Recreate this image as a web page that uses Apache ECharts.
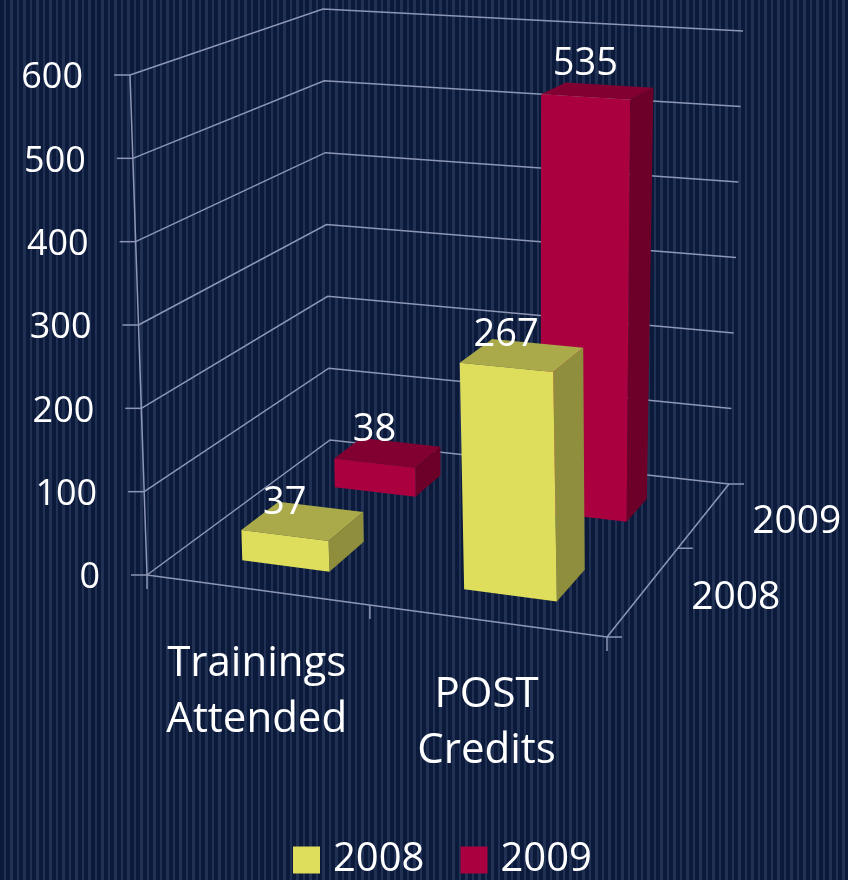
<!DOCTYPE html>
<html lang="en">
<head>
<meta charset="UTF-8" />
<title>Trainings and POST credits</title>
<script src="https://cdn.jsdelivr.net/npm/echarts@6/dist/echarts.min.js"></script>
<style>
  html, body { margin: 0; padding: 0; }
  body {
    background-color: #0b1a3b;
    background-image: repeating-linear-gradient(90deg, #0b1a3b 0px, #0b1a3b 4px, #203153 4px, #203153 6.5px);
  }
  #chart { width: 848px; height: 880px; }
</style>
</head>
<body>
<div id="chart"></div>
<script>
// data
var categories = ['Trainings\nAttended', 'POST\nCredits'];
var years = ['2008', '2009'];
var values2008 = [37, 267];
var values2009 = [38, 535];
var valueTicks = [0, 100, 200, 300, 400, 500, 600];
var yMax = 600;

// look of the 3d box (screen corners of the unit cube u/w/h)
var box = {
  c000: [147, 575], c100: [607, 637], c010: [330, 440], c110: [729, 484],
  c001: [130, 75],  c101: [596, 102], c011: [323, 9],   c111: [743, 31]
};
var yearDepth = [0.22, 0.72];
var barHalf = 0.1, depthHalf = 0.09;
var FONT = '"Open Sans", "Noto Sans", sans-serif';
var LINE = '#8d97b5';

function warp(t, a) { return a * t / (1 + (a - 1) * t); }
function lerp(p, q, t) { return [p[0] + (q[0] - p[0]) * t, p[1] + (q[1] - p[1]) * t]; }
// u = along categories, w = depth (series), v = value
function project(api, u, w, v) {
  var su = warp(u, 0.94), sw = warp(w, 1.381), sh = v / yMax;
  var b = lerp(lerp(box.c000, box.c100, su), lerp(box.c010, box.c110, su), sw);
  var t = lerp(lerp(box.c001, box.c101, su), lerp(box.c011, box.c111, su), sw);
  return api.coord(lerp(b, t, sh));
}
function seg(a, b) {
  return { type: 'line', shape: { x1: a[0], y1: a[1], x2: b[0], y2: b[1] },
    style: { stroke: LINE, lineWidth: 1.5 } };
}
function txt(s, x, y, size, align, valign, lh) {
  return { type: 'text', style: { text: s, x: x, y: y, fill: '#ffffff', fontSize: size,
    fontFamily: FONT, align: align, verticalAlign: valign, lineHeight: lh || size * 1.3 } };
}

// gridlines on side + back wall, value labels
function renderGrid(params, api) {
  var v = api.value(1);
  var a = project(api, 0, 0, v), b = project(api, 0, 1, v), c = project(api, 1, 1, v);
  return { type: 'group', children: [
    { type: 'polyline', shape: { points: [a, b, c] }, style: { stroke: LINE, lineWidth: 1.5, fill: null } },
    seg([a[0] - 16, a[1]], a),
    txt(String(v), a[0] - 47, a[1] + 3, 36, 'right', 'middle')
  ] };
}

// floor, value axis, ticks and axis names
function renderFrame(params, api) {
  var kids = [];
  var fl = project(api, 0, 0, 0), fr = project(api, 1, 0, 0), br = project(api, 1, 1, 0);
  kids.push(seg(fl, project(api, 0, 0, yMax)));
  kids.push(seg(fl, fr));
  kids.push(seg(fr, br));
  [0, 0.5, 1].forEach(function (u) {
    var p = project(api, u, 0, 0);
    kids.push(seg(p, [p[0], p[1] + 14]));
  });
  [0, 0.5, 1].forEach(function (w) {
    var p = project(api, 1, w, 0);
    kids.push(seg(p, [p[0] + 15, p[1]]));
  });
  categories.forEach(function (name, i) {
    var p = project(api, (i + 0.5) / categories.length, 0, 0);
    kids.push(txt(name, p[0], p[1] + 46, 42, 'center', 'top', 56));
  });
  years.forEach(function (name, j) {
    var p = project(api, 1, yearDepth[j], 0);
    kids.push(txt(name, p[0] + 50, p[1] + 4, 39, 'left', 'middle'));
  });
  return { type: 'group', children: kids };
}

function makeBar(yi, front, top, side) {
  return function (params, api) {
    var ci = api.value(0), v = api.value(1);
    var uc = (ci + 0.5) / categories.length;
    var u0 = uc - barHalf, u1 = uc + barHalf;
    var w0 = yearDepth[yi] - depthHalf, w1 = yearDepth[yi] + depthHalf;
    function P(u, w, h) { return project(api, u, w, h); }
    var mid = P(uc, w0, v);
    return { type: 'group', children: [
      { type: 'polygon', shape: { points: [P(u1, w0, 0), P(u1, w1, 0), P(u1, w1, v), P(u1, w0, v)] },
        style: { fill: side } },
      { type: 'polygon', shape: { points: [P(u0, w0, v), P(u1, w0, v), P(u1, w1, v), P(u0, w1, v)] },
        style: { fill: top } },
      { type: 'polygon', shape: { points: [P(u0, w0, 0), P(u1, w0, 0), P(u1, w0, v), P(u0, w0, v)] },
        style: { fill: front } },
      txt(String(v), mid[0], mid[1] - 8, 38, 'center', 'bottom')
    ] };
  };
}

var chart = echarts.init(document.getElementById('chart'));
chart.setOption({
  animation: false,
  backgroundColor: 'transparent',
  grid: { left: 0, right: 0, top: 0, bottom: 0 },
  xAxis: { type: 'value', min: 0, max: 848, show: false },
  yAxis: { type: 'value', min: 0, max: 880, inverse: true, show: false },
  legend: {
    data: years,
    left: 288, top: 835,
    icon: 'rect', itemWidth: 27, itemHeight: 27, itemGap: 36,
    textStyle: { color: '#ffffff', fontSize: 40, fontFamily: FONT, padding: [0, 0, 0, 8] }
  },
  series: [
    { type: 'custom', name: 'grid', z: 1, silent: true, renderItem: renderGrid,
      data: valueTicks.map(function (t) { return [0, t]; }) },
    { type: 'custom', name: 'frame', z: 1, silent: true, renderItem: renderFrame, data: [[0, 0]] },
    { type: 'custom', name: '2009', z: 2, itemStyle: { color: '#aa0040' },
      renderItem: makeBar(1, '#aa0040', '#820031', '#6c0029'),
      data: values2009.map(function (v, i) { return [i, v]; }) },
    { type: 'custom', name: '2008', z: 3, itemStyle: { color: '#dede5c' },
      renderItem: makeBar(0, '#dede5c', '#aaaa4a', '#8e8e3c'),
      data: values2008.map(function (v, i) { return [i, v]; }) }
  ]
});
</script>
</body>
</html>
